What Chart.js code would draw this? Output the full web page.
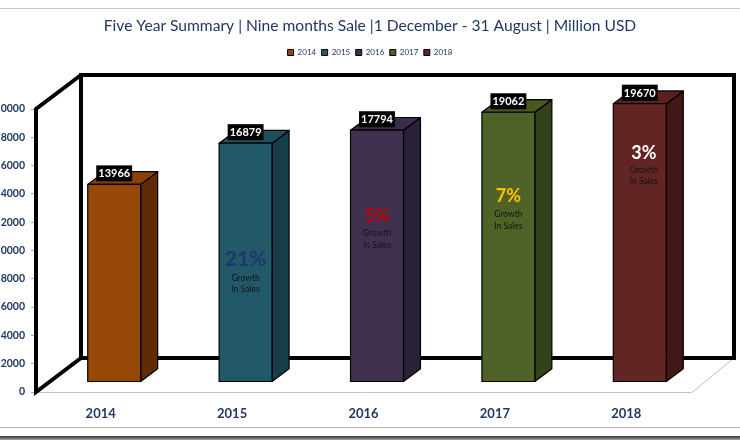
<!DOCTYPE html>
<html>
<head>
<meta charset="utf-8">
<script src="https://cdn.jsdelivr.net/npm/chart.js@4.4.0/dist/chart.umd.min.js"></script>
<style>
html,body{margin:0;padding:0;background:#ffffff;}
#wrap{width:740px;height:440px;position:relative;overflow:hidden;}
canvas{display:block;}
</style>
</head>
<body>
<div id="wrap"><canvas id="c" width="740" height="440"></canvas></div>
<script>
// ---------- data ----------
const titleText = 'Five Year Summary | Nine months Sale |1 December - 31 August | Million USD';
const years = ['2014', '2015', '2016', '2017', '2018'];
const sales = [13966, 16879, 17794, 19062, 19670];
const growthText = ['', '21%', '5%', '7%', '3%'];
const frontColors = ['#974706', '#215968', '#403151', '#4F6228', '#632523'];
const sideColors  = ['#5F2C05', '#163E48', '#2A2037', '#34421A', '#421817'];
const topColors   = ['#8A4107', '#1D515E', '#3A2C4A', '#47591F', '#5A211F'];
const growthColors = [null, '#1F3670', '#C00000', '#FFC000', '#FFFFFF'];

// ---------- fitting title size to reference width ----------
const mctx = document.createElement('canvas').getContext('2d');
mctx.font = '100px Lato';
const titleSize = Math.round(100 * 534 / mctx.measureText(titleText).width * 10) / 10;

const datasets = years.map((yr, i) => ({
  label: yr,
  data: years.map((_, j) => (j === i ? sales[i] : null)),
  backgroundColor: frontColors[i],
  borderColor: '#000000',
  borderWidth: 1,
  categoryPercentage: 1,
  barPercentage: 0.403
}));

// ---------- page chrome (screenshot frame lines) ----------
const chromePlugin = {
  id: 'chrome',
  beforeDraw(chart) {
    const c = chart.ctx, w = chart.width;
    c.save();
    c.fillStyle = '#ffffff';
    c.fillRect(0, 0, w, chart.height);
    c.fillStyle = '#c6c6c6';
    c.fillRect(0, 8, w, 1);
    c.fillStyle = '#b8b8b8';
    c.fillRect(0, 427, w, 1);
    const g = c.createLinearGradient(0, 436, 0, 440);
    g.addColorStop(0, '#3c3c3c');
    g.addColorStop(0.4, '#5a5a5a');
    g.addColorStop(1, '#a8a8a8');
    c.fillStyle = g;
    c.fillRect(0, 436, w, 4);
    c.restore();
  }
};

// ---------- 3D bars, frame, labels ----------
const bar3dPlugin = {
  id: 'bar3d',
  beforeDatasetsDraw(chart, args, o) {
    const c = chart.ctx, xs = chart.scales.x, ys = chart.scales.y;
    const L = xs.left, R = xs.right;
    const B = ys.getPixelForValue(ys.min), T = ys.getPixelForValue(ys.max);
    const dl = o.wallLeft, dr = o.wallRight;
    c.save();
    // thin floor edges
    c.strokeStyle = '#c4c4c4';
    c.lineWidth = 1;
    c.beginPath();
    c.moveTo(L, B + 0.5); c.lineTo(R, B + 0.5);
    c.lineTo(R + dr[0], B + dr[1]);
    c.stroke();
    // thick walls
    c.strokeStyle = '#000000';
    c.lineWidth = 4;
    c.lineJoin = 'miter';
    c.beginPath();
    c.moveTo(L + dl[0], B + dl[1]);
    c.lineTo(L + 1, B);
    c.lineTo(L + 1, T);
    c.lineTo(L + dl[0], T + dl[1]);
    c.stroke();
    c.beginPath();
    c.rect(L + dl[0], T + dl[1], (R + dr[0]) - (L + dl[0]), B - T);
    c.stroke();
    c.restore();
  },
  beforeDatasetDraw() { return false; },
  afterDatasetsDraw(chart, args, o) {
    const c = chart.ctx, ys = chart.scales.y;
    const [ox, oy] = o.barShift, [dx, dy] = o.barDepth;
    c.save();
    c.lineJoin = 'round';
    c.strokeStyle = '#000000';
    c.lineWidth = 1.2;
    const tops = [];
    chart.data.datasets.forEach((ds, i) => {
      const meta = chart.getDatasetMeta(i);
      meta.data.forEach((el, j) => {
        if (ds.data[j] == null) return;
        const p = el.getProps(['x', 'y', 'base', 'width'], true);
        const l = p.x - p.width / 2 + ox, r = p.x + p.width / 2 + ox;
        const t = p.y + oy, b = p.base + oy;
        // side
        c.fillStyle = sideColors[i];
        c.beginPath();
        c.moveTo(r, t); c.lineTo(r + dx, t + dy); c.lineTo(r + dx, b + dy); c.lineTo(r, b); c.closePath();
        c.fill(); c.stroke();
        // top
        c.fillStyle = topColors[i];
        c.beginPath();
        c.moveTo(l, t); c.lineTo(l + dx, t + dy); c.lineTo(r + dx, t + dy); c.lineTo(r, t); c.closePath();
        c.fill(); c.stroke();
        // front
        c.fillStyle = frontColors[i];
        c.beginPath();
        c.rect(l, t, r - l, b - t);
        c.fill(); c.stroke();
        tops.push({ i, j, cx: (l + r) / 2, t });
      });
    });
    // value labels
    c.font = 'bold 11px Lato';
    c.textAlign = 'center';
    c.textBaseline = 'middle';
    tops.forEach(tp => {
      const txt = String(sales[tp.j]);
      const w = c.measureText(txt).width + 4;
      const h = 16;
      const bottom = tp.t - 3;
      c.fillStyle = '#000000';
      c.fillRect(tp.cx - w / 2, bottom - h, w, h);
      c.fillStyle = '#ffffff';
      c.fillText(txt, tp.cx, bottom - h / 2 + 0.5);
    });
    // growth notes
    const notes = o.notes;
    tops.forEach(tp => {
      const n = notes[tp.j];
      if (!n || !growthText[tp.j]) return;
      const y = ys.getPixelForValue(n.at) + oy;
      const x = tp.cx + (n.dx || 0);
      c.font = 'bold ' + n.size + 'px Lato';
      c.fillStyle = growthColors[tp.j];
      c.fillText(growthText[tp.j], x, y);
      c.font = '8.5px Lato';
      c.fillStyle = '#141414';
      c.fillText('Growth', x, y + n.gap);
      c.fillText('In Sales', x, y + n.gap + 11.3);
    });
    c.restore();
  }
};

const chart = new Chart(document.getElementById('c'), {
  type: 'bar',
  data: { labels: years, datasets },
  plugins: [chromePlugin, bar3dPlugin],
  options: {
    responsive: false,
    animation: false,
    layout: { padding: 0 },
    scales: {
      x: {
        stacked: true,
        grid: { display: false },
        border: { display: false },
        ticks: { color: '#1F3864', font: { family: 'Lato', size: 13, weight: 'bold' }, padding: 6, maxRotation: 0 },
        afterFit(s) { s.height = 48; }
      },
      y: {
        stacked: true,
        min: 0,
        max: 20000,
        grid: { drawOnChartArea: false, drawTicks: true, tickLength: 4, color: '#a6a6a6' },
        border: { display: false },
        ticks: {
          stepSize: 2000,
          color: '#1F3864',
          font: { family: 'Lato', size: 10.5, weight: 'bold' },
          padding: 6,
          callback: v => String(v)
        },
        afterFit(s) { s.width = 35; }
      },
      yRight: {
        type: 'linear',
        position: 'right',
        display: true,
        grid: { display: false },
        border: { display: false },
        ticks: { display: false },
        afterFit(s) { s.width = 48; }
      }
    },
    plugins: {
      tooltip: { enabled: false },
      title: {
        display: true,
        text: titleText,
        color: '#1F3864',
        font: { family: 'Lato', size: titleSize, weight: 'normal', lineHeight: 1.2 },
        padding: { top: 26 - 0.6 * titleSize, bottom: 43 - 26 - 0.6 * titleSize }
      },
      legend: {
        display: true,
        position: 'top',
        labels: {
          color: '#203864',
          font: { family: 'Lato', size: 8 },
          boxWidth: 6,
          boxHeight: 6,
          padding: 5.5
        }
      },
      subtitle: {
        display: true,
        text: '',
        weight: 100,
        font: { size: 1, lineHeight: 1 },
        padding: { top: 40, bottom: 0 }
      },
      bar3d: {
        wallLeft: [46, -34],
        wallRight: [42, -34],
        barShift: [13.5, -10],
        barDepth: [17, -12.7],
        notes: [
          null,
          { at: 8700, size: 21, gap: 19 },
          { at: 11750, size: 18, gap: 18 },
          { at: 13100, size: 18, gap: 18 },
          { at: 16200, size: 18, gap: 17.5, dx: 4 }
        ]
      }
    }
  }
});

// fine-tune vertical layout so legend row and value-axis top land where the reference has them
for (let k = 0; k < 3; k++) {
  const lg = chart.legend;
  const hb = lg && lg.legendHitBoxes && lg.legendHitBoxes[0];
  if (hb) {
    const center = hb.top + hb.height / 2;
    chart.options.plugins.title.padding.bottom += 52.5 - center;
    chart.update('none');
  }
  const diff = 109 - chart.chartArea.top;
  chart.options.plugins.subtitle.padding.top += diff;
  chart.update('none');
}
</script>
</body>
</html>
